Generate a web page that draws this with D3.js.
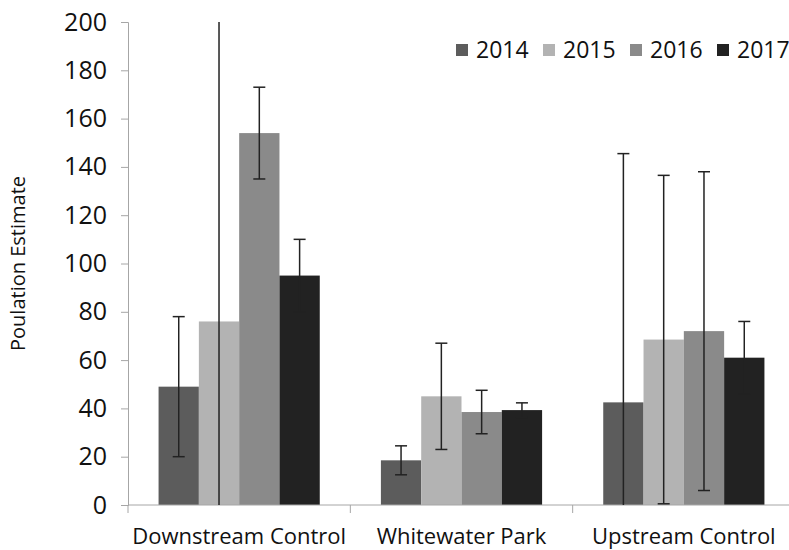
<!DOCTYPE html>
<html>
<head>
<meta charset="utf-8">
<script src="https://cdn.jsdelivr.net/npm/d3@7"></script>
<style>
  body { margin: 0; background: #fff; }
  svg text { font-family: "Open Sans", sans-serif; fill: #111; }
</style>
</head>
<body>
<div id="chart"></div>
<script>
// data
var sites = ['Downstream Control', 'Whitewater Park', 'Upstream Control'];
var years = ['2014', '2015', '2016', '2017'];
var yTicks = [0, 20, 40, 60, 80, 100, 120, 140, 160, 180, 200];

// population estimate per site, one array per year
var est2014 = [49, 18.5, 42.5];
var est2015 = [76, 45, 68.5];
var est2016 = [154, 38.5, 72];
var est2017 = [95, 39.3, 61];

// +/- error per site, one array per year
var err2014 = [29, 6, 103];
var err2015 = [150, 22, 68];
var err2016 = [19, 9, 66];
var err2017 = [15, 3, 15];

var colors = ['#5c5c5c', '#b3b3b3', '#8a8a8a', '#222222'];

var width = 789, height = 550;
var margin = { top: 22, right: -6, bottom: 45, left: 128 };

var svg = d3.select('#chart').append('svg')
  .attr('width', width)
  .attr('height', height);

var plotW = width - margin.left - margin.right;
var plotH = height - margin.top - margin.bottom;

var g = svg.append('g')
  .attr('transform', 'translate(' + margin.left + ',' + margin.top + ')');

var x0 = d3.scaleBand()
  .domain(sites)
  .range([0, plotW])
  .paddingInner(0.275)
  .paddingOuter(0.1375);

var x1 = d3.scaleBand()
  .domain(years)
  .range([0, x0.bandwidth()]);

var y = d3.scaleLinear()
  .domain([0, 200])
  .range([plotH, 0]);

var estimates = [est2014, est2015, est2016, est2017];
var errors = [err2014, err2015, err2016, err2017];

var rows = [];
years.forEach(function (yr, i) {
  sites.forEach(function (s, j) {
    rows.push({ site: s, year: yr, idx: i, value: estimates[i][j], err: errors[i][j] });
  });
});

// y axis
var yAxis = g.append('g')
  .call(d3.axisLeft(y).tickValues(yTicks).tickSize(7).tickPadding(14));
yAxis.select('.domain').attr('stroke', '#a6a6a6');
yAxis.selectAll('.tick line').attr('stroke', '#a6a6a6');
yAxis.selectAll('.tick text').style('font-size', '25px').attr('fill', '#111');

// bars
g.selectAll('.bar')
  .data(rows)
  .enter().append('rect')
  .attr('class', 'bar')
  .attr('x', function (d) { return x0(d.site) + x1(d.year); })
  .attr('width', x1.bandwidth())
  .attr('y', function (d) { return y(d.value); })
  .attr('height', function (d) { return y(0) - y(d.value); })
  .attr('fill', function (d) { return colors[d.idx]; });

// x axis (category boundaries)
var step = x0.step();
var xAxis = g.append('g').attr('transform', 'translate(0,' + plotH + ')');
xAxis.append('line')
  .attr('x1', 0).attr('x2', plotW)
  .attr('stroke', '#a6a6a6');
xAxis.selectAll('.cat-tick')
  .data(d3.range(sites.length + 1))
  .enter().append('line')
  .attr('x1', function (d) { return d * step; })
  .attr('x2', function (d) { return d * step; })
  .attr('y1', 0).attr('y2', 8)
  .attr('stroke', '#a6a6a6');
xAxis.selectAll('.cat-label')
  .data(sites)
  .enter().append('text')
  .attr('x', function (d) { return x0(d) + x0.bandwidth() / 2; })
  .attr('y', 39)
  .attr('text-anchor', 'middle')
  .style('font-size', '22px')
  .text(function (d) { return d; });

// error bars, clipped to the plot
var eb = g.selectAll('.err')
  .data(rows)
  .enter().append('g')
  .attr('class', 'err')
  .attr('transform', function (d) {
    return 'translate(' + (x0(d.site) + x1(d.year) + x1.bandwidth() / 2) + ',0)';
  });

eb.append('line')
  .attr('y1', function (d) { return y(Math.min(200, d.value + d.err)); })
  .attr('y2', function (d) { return y(Math.max(0, d.value - d.err)); })
  .attr('stroke', '#222')
  .attr('stroke-width', 1.5);

eb.filter(function (d) { return d.value + d.err <= 200; })
  .append('line')
  .attr('x1', -6).attr('x2', 6)
  .attr('y1', function (d) { return y(d.value + d.err); })
  .attr('y2', function (d) { return y(d.value + d.err); })
  .attr('stroke', '#222')
  .attr('stroke-width', 1.5);

eb.filter(function (d) { return d.value - d.err >= 0; })
  .append('line')
  .attr('x1', -6).attr('x2', 6)
  .attr('y1', function (d) { return y(d.value - d.err); })
  .attr('y2', function (d) { return y(d.value - d.err); })
  .attr('stroke', '#222')
  .attr('stroke-width', 1.5);

// y title
svg.append('text')
  .attr('transform', 'translate(25,' + (margin.top + plotH / 2) + ') rotate(-90)')
  .attr('text-anchor', 'middle')
  .style('font-size', '20px')
  .text('Poulation Estimate');

// legend
var legend = svg.append('g').attr('transform', 'translate(456,50)');
var item = legend.selectAll('.leg')
  .data(years)
  .enter().append('g')
  .attr('transform', function (d, i) { return 'translate(' + (i * 87) + ',0)'; });
item.append('rect')
  .attr('x', 0).attr('y', -6)
  .attr('width', 12).attr('height', 12)
  .attr('fill', function (d, i) { return colors[i]; });
item.append('text')
  .attr('x', 20).attr('y', 8)
  .style('font-size', '23px')
  .text(function (d) { return d; });
</script>
</body>
</html>
